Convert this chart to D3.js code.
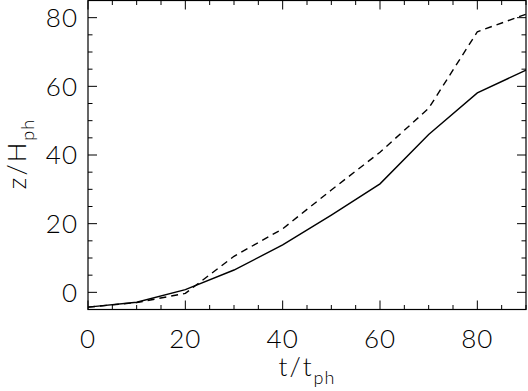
<!DOCTYPE html>
<html>
<head>
<meta charset="utf-8">
<script src="https://cdn.jsdelivr.net/npm/d3@7"></script>
<style>
  body { margin: 0; background: #fff; }
  text { font-family: "Lato", "Liberation Sans", Arial, sans-serif; font-weight: 300; fill: #000; }
</style>
</head>
<body>
<script>
    // time (t/t_ph) and height (z/H_ph) for the two runs
    var times = [0, 10, 20, 30, 40, 50, 60, 70, 80, 90];
    var solidZ = [-4.3, -2.9, 0.8, 6.5, 13.8, 22.5, 31.6, 46.0, 58.1, 64.7];
    var dashedZ = [-4.3, -3.0, -0.3, 10.5, 18.5, 29.8, 40.8, 53.6, 75.9, 81.0];
    var xTicks = [0, 20, 40, 60, 80];
    var yTicks = [0, 20, 40, 60, 80];

    var w = 528, h = 391;
    var pLeft = 88, pRight = 526, pTop = 0.5, pBottom = 309.5;

    var x = d3.scaleLinear().domain([0, 90]).range([pLeft, pRight]);
    var y = d3.scaleLinear().domain([-5, 85]).range([pBottom, pTop]);

    var svg = d3.select('body').append('svg')
        .attr('width', w)
        .attr('height', h);

    var minorX = d3.range(0, 91, 5), minorY = d3.range(-5, 86, 5);

    // frame
    svg.append('rect')
        .attr('x', pLeft).attr('y', pTop)
        .attr('width', pRight - pLeft).attr('height', pBottom - pTop)
        .attr('fill', 'none').attr('stroke', '#000').attr('stroke-width', 1.2);

    var ticks = svg.append('g').attr('stroke', '#000').attr('stroke-width', 1);
    minorX.forEach(function (v) {
        var len = v % 20 === 0 ? 9 : 4.5;
        ticks.append('line').attr('x1', x(v)).attr('x2', x(v)).attr('y1', pBottom).attr('y2', pBottom - len);
        ticks.append('line').attr('x1', x(v)).attr('x2', x(v)).attr('y1', pTop).attr('y2', pTop + len);
    });
    minorY.forEach(function (v) {
        var len = v % 20 === 0 ? 9 : 4.5;
        ticks.append('line').attr('y1', y(v)).attr('y2', y(v)).attr('x1', pLeft).attr('x2', pLeft + len);
        ticks.append('line').attr('y1', y(v)).attr('y2', y(v)).attr('x1', pRight).attr('x2', pRight - len);
    });

    svg.selectAll('.xl').data(xTicks).enter().append('text')
        .attr('x', function (d) { return x(d); })
        .attr('y', 348)
        .attr('text-anchor', 'middle')
        .attr('font-size', 26)
        .attr('letter-spacing', 1)
        .text(function (d) { return d; });

    svg.selectAll('.yl').data(yTicks).enter().append('text')
        .attr('x', 78)
        .attr('y', function (d) { return y(d) + 9.3; })
        .attr('text-anchor', 'end')
        .attr('font-size', 26)
        .attr('letter-spacing', 1)
        .text(function (d) { return d; });

    // axis titles
    var xt = svg.append('text').attr('x', 307).attr('y', 376)
        .attr('text-anchor', 'middle').attr('font-size', 26).attr('letter-spacing', 2);
    xt.append('tspan').text('t/t');
    xt.append('tspan').attr('font-size', 18).attr('dy', 8).attr('letter-spacing', 1).text('ph');

    var yt = svg.append('text')
        .attr('transform', 'translate(26,154) rotate(-90)')
        .attr('text-anchor', 'middle').attr('font-size', 26).attr('letter-spacing', 2);
    yt.append('tspan').text('z/H');
    yt.append('tspan').attr('font-size', 18).attr('dy', 8).attr('letter-spacing', 1).text('ph');

    var line = d3.line()
        .x(function (d) { return x(d[0]); })
        .y(function (d) { return y(d[1]); });

    svg.append('path')
        .attr('d', line(d3.zip(times, solidZ)))
        .attr('fill', 'none').attr('stroke', '#000').attr('stroke-width', 1.4);

    svg.append('path')
        .attr('d', line(d3.zip(times, dashedZ)))
        .attr('fill', 'none').attr('stroke', '#000').attr('stroke-width', 1.4)
        .attr('stroke-dasharray', '7,5');
</script>
</body>
</html>
